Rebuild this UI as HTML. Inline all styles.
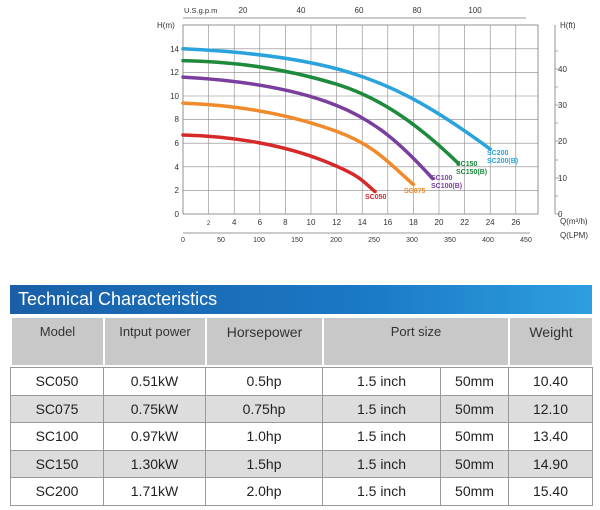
<!DOCTYPE html>
<html><head><style>
body{margin:0;background:#fff;width:600px;height:510px;overflow:hidden;font-family:"Liberation Sans",sans-serif}
.t{position:absolute;left:10px;top:285px;width:582px;height:29px;background:linear-gradient(90deg,#1a5fa8,#1b78c4 60%,#2d9fe0);color:#fff;font-size:18px;line-height:29px;padding-left:8px;box-sizing:border-box}
table{position:absolute;left:10px;border-collapse:collapse;width:582px;table-layout:fixed}
td{border:2px solid #fff;text-align:center;font-size:14px;color:#222}
.h td{background:#c8c8c8;height:40px;vertical-align:top;padding-top:6px;font-size:13px;color:#333}
.d tr{height:27.5px}
.d td{border:1.5px solid #999;padding:0;line-height:16px}
.d tr:nth-child(even) td{background:#ddd}
</style></head><body>
<svg width="600" height="260" style="position:absolute;left:0;top:0" font-family="Liberation Sans" font-size="8" fill="#333">
<g stroke="#777" stroke-width="0.8">
<line x1="183" y1="18" x2="526" y2="18"/>
<line x1="183" y1="233" x2="530" y2="233"/>
<line x1="555" y1="25" x2="555" y2="214"/>
<rect x="183" y="25" width="355" height="189" fill="none"/>
</g>
<g stroke="#888" stroke-width="0.6">
<line x1="208.6" y1="25" x2="208.6" y2="214"/><line x1="234.2" y1="25" x2="234.2" y2="214"/><line x1="259.8" y1="25" x2="259.8" y2="214"/><line x1="285.4" y1="25" x2="285.4" y2="214"/><line x1="311" y1="25" x2="311" y2="214"/><line x1="336.6" y1="25" x2="336.6" y2="214"/><line x1="362.2" y1="25" x2="362.2" y2="214"/><line x1="387.8" y1="25" x2="387.8" y2="214"/><line x1="413.4" y1="25" x2="413.4" y2="214"/><line x1="439" y1="25" x2="439" y2="214"/><line x1="464.6" y1="25" x2="464.6" y2="214"/><line x1="490.2" y1="25" x2="490.2" y2="214"/><line x1="515.8" y1="25" x2="515.8" y2="214"/>
<line x1="183" y1="190.4" x2="538" y2="190.4"/><line x1="183" y1="166.8" x2="538" y2="166.8"/><line x1="183" y1="143.2" x2="538" y2="143.2"/><line x1="183" y1="119.6" x2="538" y2="119.6"/><line x1="183" y1="96" x2="538" y2="96"/><line x1="183" y1="72.4" x2="538" y2="72.4"/><line x1="183" y1="48.8" x2="538" y2="48.8"/>
</g>
<g fill="none" stroke-width="3.5" stroke-linecap="round" transform="translate(183,214) scale(12.8,-11.8)">
<path vector-effect="non-scaling-stroke" stroke="#2aa3dc" d="M0,14 C6,13.7 10,13 13,12 S19,9.5 24,5.5"/>
<path vector-effect="non-scaling-stroke" stroke="#1e8a3c" d="M0,13 C5,12.9 9,12 12,11 S18,8 21.5,4.3"/>
<path vector-effect="non-scaling-stroke" stroke="#7a3f9e" d="M0,11.6 C5,11.3 9,10.5 12,9.2 S17,6 19.5,3"/>
<path vector-effect="non-scaling-stroke" stroke="#f08a2a" d="M0,9.4 C5,9.2 9,8.2 12,7 S16,4.4 18,2.5"/>
<path vector-effect="non-scaling-stroke" stroke="#d62a2a" d="M0,6.7 C4,6.6 8,5.8 11,4.5 S14,2.8 15,1.9"/>
</g>
<g font-size="7" font-weight="bold">
<text x="487" y="155" fill="#2aa3dc">SC200</text><text x="487" y="163" fill="#2aa3dc">SC200(B)</text>
<text x="456" y="166" fill="#1e8a3c">SC150</text><text x="456" y="174" fill="#1e8a3c">SC150(B)</text>
<text x="431" y="180" fill="#7a3f9e">SC100</text><text x="431" y="188" fill="#7a3f9e">SC100(B)</text>
<text x="404" y="193" fill="#f08a2a">SC075</text>
<text x="365" y="199" fill="#d62a2a">SC050</text>
</g>
<g text-anchor="end"><text x="179" y="52">14</text><text x="179" y="75">12</text><text x="179" y="99">10</text><text x="179" y="122">8</text><text x="179" y="146">6</text><text x="179" y="170">4</text><text x="179" y="193">2</text><text x="179" y="217">0</text></g>
<text x="157" y="28">H(m)</text>
<g text-anchor="middle"><text x="208.6" y="225" font-size="6">2</text><text x="234.2" y="225">4</text><text x="259.8" y="225">6</text><text x="285.4" y="225">8</text><text x="311" y="225">10</text><text x="336.6" y="225">12</text><text x="362.2" y="225">14</text><text x="387.8" y="225">16</text><text x="413.4" y="225">18</text><text x="439" y="225">20</text><text x="464.6" y="225">22</text><text x="490.2" y="225">24</text><text x="515.8" y="225">26</text></g>
<g text-anchor="middle" font-size="7"><text x="183" y="242">0</text><text x="221" y="242">50</text><text x="259" y="242">100</text><text x="297" y="242">150</text><text x="336" y="242">200</text><text x="374" y="242">250</text><text x="412" y="242">300</text><text x="450" y="242">350</text><text x="488" y="242">400</text><text x="526" y="242">450</text></g>
<g text-anchor="middle"><text x="243" y="13">20</text><text x="301" y="13">40</text><text x="359" y="13">60</text><text x="417" y="13">80</text><text x="475" y="13">100</text></g>
<text x="184" y="13" font-size="7.5">U.S.g.p.m</text>
<g><text x="558" y="217">0</text><text x="558" y="181">10</text><text x="558" y="144">20</text><text x="558" y="108">30</text><text x="558" y="72">40</text></g>
<g stroke="#777" stroke-width="0.6"><line x1="555" y1="214" x2="560" y2="214"/><line x1="555" y1="196" x2="558" y2="196"/><line x1="555" y1="178" x2="560" y2="178"/><line x1="555" y1="160" x2="558" y2="160"/><line x1="555" y1="141" x2="560" y2="141"/><line x1="555" y1="123" x2="558" y2="123"/><line x1="555" y1="105" x2="560" y2="105"/><line x1="555" y1="87" x2="558" y2="87"/><line x1="555" y1="69" x2="560" y2="69"/><line x1="555" y1="51" x2="558" y2="51"/></g>
<text x="560" y="28">H(ft)</text>
<text x="560" y="224">Q(m³/h)</text>
<text x="560" y="238">Q(LPM)</text>
</svg>
<div class="t">Technical Characteristics</div>
<table class="h" style="top:316px"><colgroup><col style="width:93px"><col style="width:102px"><col style="width:117px"><col style="width:118px"><col style="width:68px"><col style="width:84px"></colgroup>
<tr><td>Model</td><td>Intput power</td><td style="font-size:14px">Horsepower</td><td colspan="2">Port size</td><td style="font-size:14px">Weight</td></tr></table>
<table class="d" style="top:367px"><colgroup><col style="width:93px"><col style="width:102px"><col style="width:117px"><col style="width:118px"><col style="width:68px"><col style="width:84px"></colgroup>
<tr><td>SC050</td><td>0.51kW</td><td>0.5hp</td><td>1.5 inch</td><td>50mm</td><td>10.40</td></tr>
<tr><td>SC075</td><td>0.75kW</td><td>0.75hp</td><td>1.5 inch</td><td>50mm</td><td>12.10</td></tr>
<tr><td>SC100</td><td>0.97kW</td><td>1.0hp</td><td>1.5 inch</td><td>50mm</td><td>13.40</td></tr>
<tr><td>SC150</td><td>1.30kW</td><td>1.5hp</td><td>1.5 inch</td><td>50mm</td><td>14.90</td></tr>
<tr><td>SC200</td><td>1.71kW</td><td>2.0hp</td><td>1.5 inch</td><td>50mm</td><td>15.40</td></tr>
</table>
</body></html>
